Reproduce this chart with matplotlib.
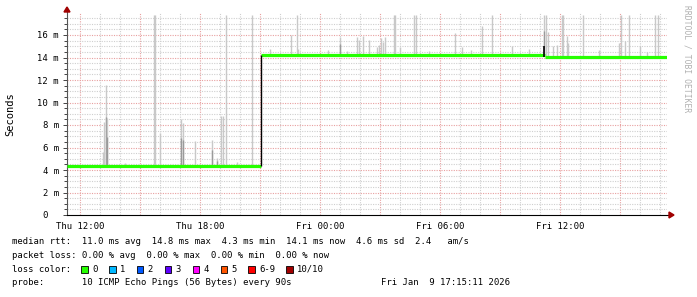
import matplotlib
matplotlib.use("Agg")
import matplotlib.pyplot as plt
from matplotlib.patches import Rectangle, Polygon

# time axis: hours since Thu 00:00
x_start = 11.35
x_end = 41.35

# median rtt (ms) as steps
median_breaks = [11.35, 21.03, 35.23, 41.33]
median_levels = [4.36, 14.25, 14.07]

# smoke spikes: hour, top (ms), dark flag
spike_hours = [13.15, 13.22, 13.30, 13.35, 14.25, 15.70, 15.75, 16.00, 17.03, 17.17,
               17.77, 18.58, 18.87, 19.03, 19.17, 19.32, 19.83, 20.62,
               21.52, 22.55, 22.87, 22.92, 24.42, 25.00, 25.33, 25.83, 25.97, 26.17,
               26.43, 26.83, 26.93, 27.05, 27.13, 27.25, 27.72, 27.77, 28.00, 28.68,
               28.82, 29.43, 30.77, 31.12, 31.53, 32.12, 32.62, 33.62, 34.47, 35.20,
               35.30, 35.42, 35.63, 35.87, 36.10, 36.15, 36.33, 36.42, 37.17, 37.93,
               38.97, 39.03, 39.23, 39.47, 39.98, 40.33, 40.73, 40.88]
spike_tops = [5.6, 8.3, 11.6, 8.6, 4.6, 17.8, 17.8, 7.3, 8.5, 8.2,
              6.6, 6.7, 5.1, 8.8, 8.8, 17.8, 4.7, 17.8,
              14.75, 16.0, 17.8, 14.75, 14.7, 15.85, 14.6, 15.8, 15.6, 15.9,
              15.55, 14.9, 15.1, 15.7, 15.4, 15.8, 17.8, 17.8, 14.9, 17.8,
              17.8, 14.6, 16.15, 14.9, 14.7, 16.8, 17.8, 15.0, 14.75, 17.8,
              17.8, 16.3, 15.0, 15.1, 17.8, 17.8, 15.9, 15.3, 17.8, 14.7,
              15.3, 17.8, 15.5, 17.8, 15.0, 14.5, 17.8, 17.8]
spike_dark = [0, 0, 1, 1, 0, 0, 0, 0, 1, 1,
              0, 1, 1, 0, 0, 0, 0, 0,
              0, 0, 0, 0, 0, 1, 0, 0, 0, 0,
              0, 0, 0, 0, 0, 0, 0, 0, 0, 0,
              0, 0, 0, 0, 0, 0, 0, 0, 0, 1,
              0, 0, 0, 0, 0, 0, 0, 0, 0, 0,
              0, 0, 0, 0, 0, 0, 0, 0]

tick_hours = [12, 18, 24, 30, 36]
tick_labels = ["Thu 12:00", "Thu 18:00", "Fri 00:00", "Fri 06:00", "Fri 12:00"]
y_ticks = [0, 2, 4, 6, 8, 10, 12, 14, 16]
y_labels = ["0  ", "2 m", "4 m", "6 m", "8 m", "10 m", "12 m", "14 m", "16 m"]

loss_names = ["0", "1", "2", "3", "4", "5", "6-9", "10/10"]
loss_colors = ["#26ff00", "#00b8ff", "#0059ff", "#5e00ff", "#ff00ff", "#ff5500", "#ff0000", "#a10000"]

W, H = 697, 297
fig = plt.figure(figsize=(W / 100, H / 100), dpi=100)
fig.patch.set_facecolor("white")

def px(x, y):
    return x / W, 1 - y / H

left, right, top, bottom = 67, 667, 12.5, 215
ax = fig.add_axes([left / W, 1 - bottom / H, (right - left) / W, (bottom - top) / H])
ax.set_xlim(x_start, x_end)
ax.set_ylim(0, 18)

mono = "DejaVu Sans Mono"
dot = (0, (1, 1.2))

# grid
for h in range(12, 42):
    c = "#e8a0a0" if h % 3 == 0 else "#cfcfcf"
    ax.axvline(h, color=c, lw=0.8, ls=dot, zorder=0)
for k in range(1, 36):
    v = k * 0.5
    c = "#e8a0a0" if k % 4 == 0 else "#cfcfcf"
    ax.axhline(v, color=c, lw=0.8, ls=dot, zorder=0)

# smoke
for h, t, d in zip(spike_hours, spike_tops, spike_dark):
    base = median_levels[0] if h < median_breaks[1] else (median_levels[1] if h < median_breaks[2] else median_levels[2])
    ax.vlines(h, base, t, color="#c8c8c8", lw=1.0, zorder=1)
    if d:
        ax.vlines(h, base, base + (t - base) * 0.6, color="#9a9a9a", lw=1.0, zorder=1)

# median line
for i in range(len(median_levels)):
    ax.hlines(median_levels[i], median_breaks[i], median_breaks[i + 1], color="#26ff00", lw=2.3, zorder=3)
ax.vlines(median_breaks[1], median_levels[0], median_levels[1], color="black", lw=1.0, zorder=4)
ax.vlines(median_breaks[2] - 0.05, median_levels[2], 15.0, color="black", lw=1.2, zorder=4)

ax.set_xticks(tick_hours)
ax.set_xticklabels(tick_labels, fontfamily=mono, fontsize=6.4)
ax.set_yticks(y_ticks)
ax.set_yticklabels(y_labels, fontfamily=mono, fontsize=6.4)
ax.set_yticks([k * 0.5 for k in range(36)], minor=True)
ax.tick_params(axis="y", which="major", length=3, width=0.7, direction="out", pad=3, colors="#444444", labelcolor="black")
ax.tick_params(axis="y", which="minor", length=2, width=0.7, direction="out", colors="#444444")
ax.tick_params(axis="x", which="major", length=0, pad=5, labelcolor="black")

for s in ["top", "right"]:
    ax.spines[s].set_visible(False)
ax.spines["left"].set_color("#555555")
ax.spines["bottom"].set_color("black")
ax.spines["left"].set_bounds(0, 18.3)
ax.spines["bottom"].set_bounds(x_start, x_end + 0.15)
ax.set_facecolor("white")

# arrows
fig.patches.append(Polygon([px(64, 12), px(70, 12), px(67, 7)], closed=True,
                           transform=fig.transFigure, color="#a00000"))
fig.patches.append(Polygon([px(669, 212), px(669, 218), px(674, 215)], closed=True,
                           transform=fig.transFigure, color="#a00000"))

fig.text(*px(10, 114), "Seconds", fontfamily=mono, fontsize=7.5, rotation=90, ha="center", va="center")
fig.text(*px(687.5, 59), "RRDTOOL / TOBI OETIKER", fontfamily=mono, fontsize=5.8,
         rotation=270, ha="center", va="center", color="#b0b0b0")

fs = 6.4
fig.text(*px(12, 241.7), "median rtt:  11.0 ms avg  14.8 ms max  4.3 ms min  14.1 ms now  4.6 ms sd  2.4   am/s",
         fontfamily=mono, fontsize=fs, va="center")
fig.text(*px(12, 255.3), "packet loss: 0.00 % avg  0.00 % max  0.00 % min  0.00 % now",
         fontfamily=mono, fontsize=fs, va="center")
fig.text(*px(12, 269.3), "loss color:", fontfamily=mono, fontsize=fs, va="center")
sq_x = [81, 109, 136.7, 164.7, 192.7, 220.7, 248.3, 286]
lab_x = [92.7, 120, 147.7, 175.7, 203.3, 231, 259, 296.7]
for sx, lx, name, col in zip(sq_x, lab_x, loss_names, loss_colors):
    x0, y0 = px(sx, 273)
    fig.patches.append(Rectangle((x0, y0), 6.5 / W, 7.5 / H, transform=fig.transFigure,
                                 facecolor=col, edgecolor="black", lw=0.6))
    fig.text(*px(lx, 269.3), name, fontfamily=mono, fontsize=fs, va="center")
fig.text(*px(12, 282.7), "probe:       10 ICMP Echo Pings (56 Bytes) every 90s",
         fontfamily=mono, fontsize=fs, va="center")
fig.text(*px(510, 282.7), "Fri Jan  9 17:15:11 2026", fontfamily=mono, fontsize=fs, va="center", ha="right")

fig.savefig("out.png", dpi=100, facecolor="white")
